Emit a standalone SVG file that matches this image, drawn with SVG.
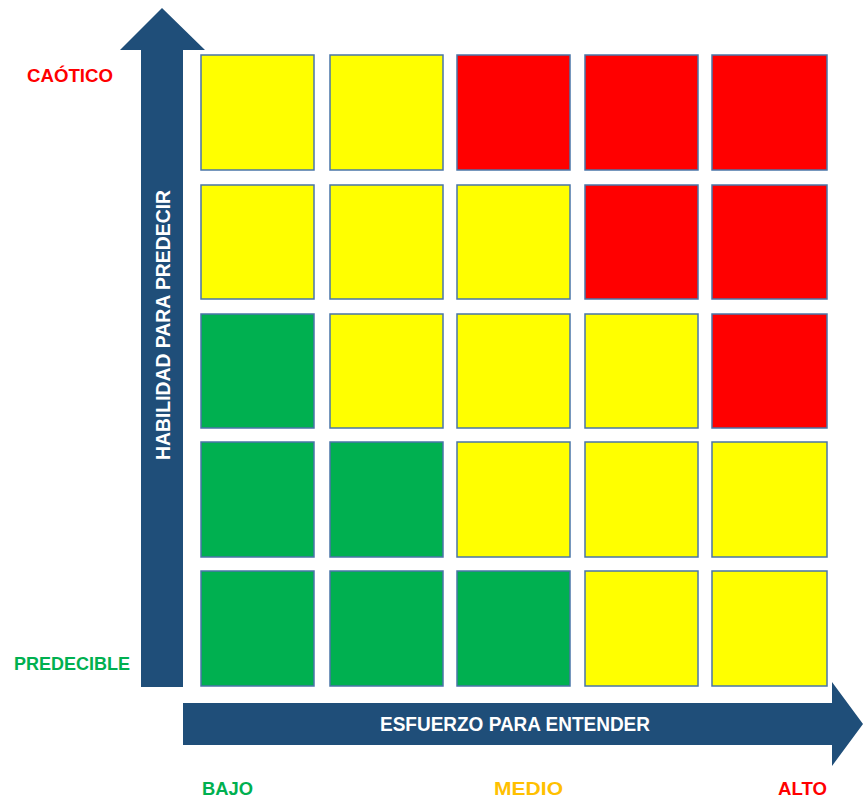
<svg xmlns="http://www.w3.org/2000/svg" width="863" height="800" viewBox="0 0 863 800">
  <style>
    .cell { stroke: #4a76a8; stroke-width: 1.5; }
    .y { fill: #ffff00; }
    .r { fill: #ff0000; }
    .g { fill: #00b050; }
    .arrow { fill: #1f4e79; }
    .lbl { font-family: "Liberation Sans", Arial, sans-serif; font-weight: bold; font-size: 18.5px; }
    .axis { font-family: "Liberation Sans", Arial, sans-serif; font-weight: bold; font-size: 20px; fill: #ffffff; }
  </style>
  <rect width="863" height="800" fill="#ffffff"/>

  <!-- axis arrows -->
  <g id="axes">
    <polygon id="axis-y" class="arrow" points="141,687 183,687 183,50 205,50 162,8 120,50 141,50"/>
    <polygon id="axis-x" class="arrow" points="183,703 832,703 832,682 863,724 832,766 832,745 183,745"/>
    <text class="axis" x="515" y="731" text-anchor="middle" textLength="270" lengthAdjust="spacingAndGlyphs">ESFUERZO PARA ENTENDER</text>
    <text class="axis" transform="translate(170,325) rotate(-90)" x="0" y="0" text-anchor="middle" textLength="270" lengthAdjust="spacingAndGlyphs">HABILIDAD PARA PREDECIR</text>
  </g>

  <!-- risk grid: rows from top (caotico) to bottom (predecible) -->
  <g id="grid">
    <g id="row1">
      <rect class="cell y" x="201" y="55" width="113" height="115"/>
      <rect class="cell y" x="330" y="55" width="113" height="115"/>
      <rect class="cell r" x="457" y="55" width="113" height="115"/>
      <rect class="cell r" x="585" y="55" width="113" height="115"/>
      <rect class="cell r" x="712" y="55" width="115" height="115"/>
    </g>
    <g id="row2">
      <rect class="cell y" x="201" y="185" width="113" height="114"/>
      <rect class="cell y" x="330" y="185" width="113" height="114"/>
      <rect class="cell y" x="457" y="185" width="113" height="114"/>
      <rect class="cell r" x="585" y="185" width="113" height="114"/>
      <rect class="cell r" x="712" y="185" width="115" height="114"/>
    </g>
    <g id="row3">
      <rect class="cell g" x="201" y="314" width="113" height="114"/>
      <rect class="cell y" x="330" y="314" width="113" height="114"/>
      <rect class="cell y" x="457" y="314" width="113" height="114"/>
      <rect class="cell y" x="585" y="314" width="113" height="114"/>
      <rect class="cell r" x="712" y="314" width="115" height="114"/>
    </g>
    <g id="row4">
      <rect class="cell g" x="201" y="442" width="113" height="115"/>
      <rect class="cell g" x="330" y="442" width="113" height="115"/>
      <rect class="cell y" x="457" y="442" width="113" height="115"/>
      <rect class="cell y" x="585" y="442" width="113" height="115"/>
      <rect class="cell y" x="712" y="442" width="115" height="115"/>
    </g>
    <g id="row5">
      <rect class="cell g" x="201" y="571" width="113" height="115"/>
      <rect class="cell g" x="330" y="571" width="113" height="115"/>
      <rect class="cell g" x="457" y="571" width="113" height="115"/>
      <rect class="cell y" x="585" y="571" width="113" height="115"/>
      <rect class="cell y" x="712" y="571" width="115" height="115"/>
    </g>
  </g>

  <!-- scale labels -->
  <g id="labels">
    <text class="lbl" x="27" y="82" fill="#ff0000" textLength="86" lengthAdjust="spacingAndGlyphs">CAÓTICO</text>
    <text class="lbl" x="14" y="670" fill="#00b050" textLength="116" lengthAdjust="spacingAndGlyphs">PREDECIBLE</text>
    <text class="lbl" x="202" y="795" fill="#00b050" textLength="51" lengthAdjust="spacingAndGlyphs">BAJO</text>
    <text class="lbl" x="494" y="795" fill="#ffc000" textLength="69" lengthAdjust="spacingAndGlyphs">MEDIO</text>
    <text class="lbl" x="778" y="795" fill="#ff0000" textLength="49" lengthAdjust="spacingAndGlyphs">ALTO</text>
  </g>
</svg>
